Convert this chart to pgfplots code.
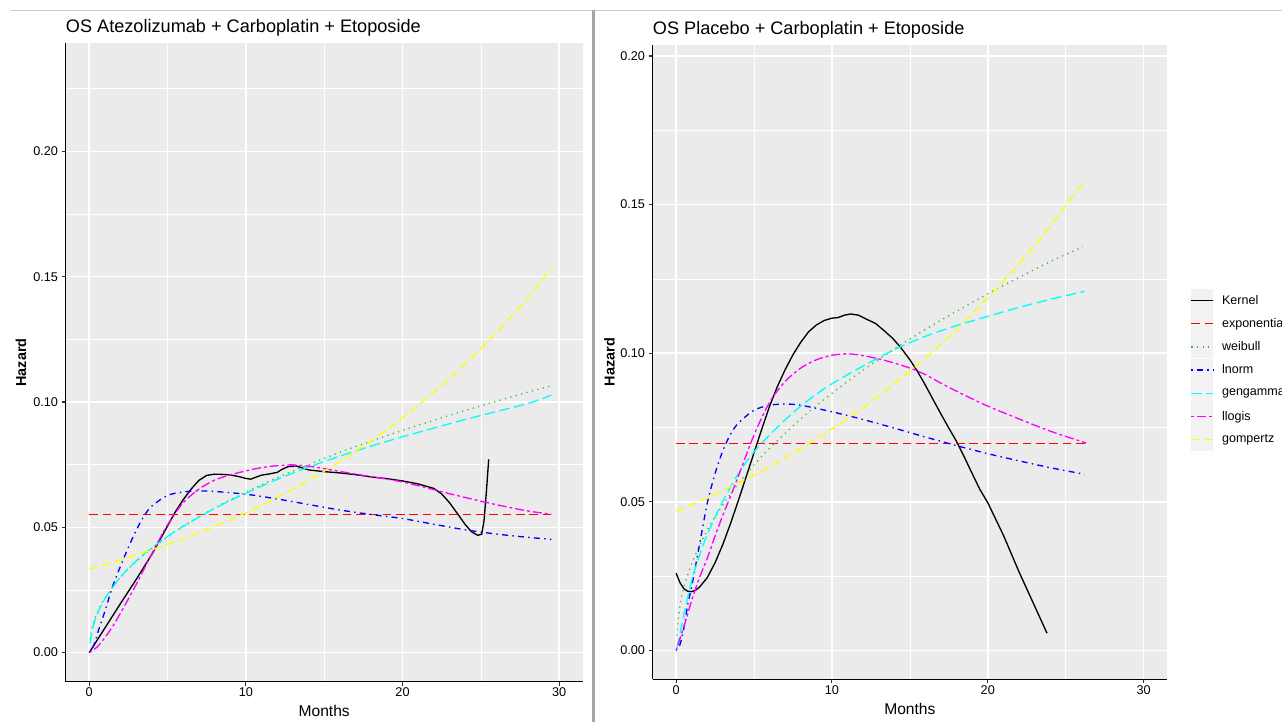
\documentclass[border=0pt]{standalone}
\usepackage{fontspec}
\setmainfont{Liberation Sans}
\usepackage{pgfplots}
\pgfplotsset{compat=1.18}

\definecolor{panelbg}{rgb}{0.922,0.922,0.922}
\definecolor{legkey}{rgb}{0.949,0.949,0.949}
\definecolor{tickcol}{rgb}{0.2,0.2,0.2}
\definecolor{framegray}{rgb}{0.651,0.651,0.651}
\definecolor{framelight}{rgb}{0.784,0.784,0.784}
\definecolor{gridwhite}{rgb}{1,1,1}
\definecolor{axisblack}{rgb}{0,0,0}

% stroke colour written straight into the PDF stream
\makeatletter
\newcommand\hzstroke[1]{\pgfsysprotocol@literal{#1 RG}}
\makeatother

% line styles of the fitted hazards
\tikzset{
  hzKernel/.style={draw, /utils/exec={\hzstroke{0 0 0}}, solid},
  hzExpo/.style={draw, /utils/exec={\hzstroke{1 0 0}}, dash pattern=on 6.5pt off 3.5pt},
  hzWeib/.style={draw, /utils/exec={\hzstroke{0.2 0.75 0.2}}, dash pattern=on 0.9pt off 3.3pt},
  hzLnorm/.style={draw, /utils/exec={\hzstroke{0 0 1}}, dash pattern=on 1.1pt off 3.2pt on 4.5pt off 3.2pt},
  hzGgam/.style={draw, /utils/exec={\hzstroke{0 1 1}}, dash pattern=on 7.8pt off 3.4pt},
  hzLlog/.style={draw, /utils/exec={\hzstroke{1 0 1}}, dash pattern=on 2.2pt off 2.2pt on 6.8pt off 2.2pt},
  hzGomp/.style={draw, /utils/exec={\hzstroke{1 1 0}}, dash pattern=on 6.5pt off 3.5pt},
}

\pgfplotsset{
  every axis title shift=0pt,
  hazardaxis/.style={
    scale only axis,
    anchor=south west,
    xmin=-1.5, xmax=31.5,
    xtick={0,10,20,30},
    minor xtick={5,15,25},
    ytick={0,0.05,0.10,0.15,0.20},
    minor ytick={0.025,0.075,0.125,0.175,0.225},
    grid=both,
    major grid style={draw=gridwhite, line width=1.1pt},
    minor grid style={draw=gridwhite, line width=0.55pt},
    axis background/.style={fill=panelbg},
    axis x line*=bottom, axis y line*=left,
    axis line style={-, draw=axisblack, line width=0.8pt},
    tick pos=left,
    tick align=outside,
    major tick length=3pt,
    minor tick length=0pt,
    major tick style={draw=tickcol, line width=0.8pt},
    tick label style={font=\fontsize{9.5}{11}\selectfont},
    xticklabel style={inner sep=1.6pt},
    yticklabel style={inner sep=2.6pt},
    scaled y ticks=false,
    y tick label style={/pgf/number format/.cd, fixed, fixed zerofill, precision=2, /tikz/.cd},
    /pgf/number format/assume math mode=true,
    xlabel={Months},
    ylabel={Hazard},
    xlabel style={font=\fontsize{11.7}{14}\selectfont, anchor=center, inner sep=0pt},
    ylabel style={font=\bfseries\fontsize{10.8}{13}\selectfont, anchor=center, inner sep=0pt},
    title style={font=\fontsize{13.6}{16}\selectfont, anchor=west, inner sep=0pt},
    every axis plot/.append style={line width=1pt, no markers},
  },
}

\begin{document}
\begin{tikzpicture}
\useasboundingbox[fill=gridwhite] (0pt,0pt) rectangle (961.5pt,541.5pt);

% window frame lines
\draw[draw=framelight, line width=0.8pt] (8.25pt,533.6pt) -- (961.5pt,533.6pt);
\path[fill=framegray] (443.8pt,0pt) rectangle (446.25pt,534pt);

% ---------------- Atezolizumab arm ----------------
\begin{axis}[hazardaxis,
  at={(49.28pt,30.23pt)}, width=387.75pt, height=478.8pt,
  ymin=-0.0116, ymax=0.2431,
  title={OS Atezolizumab + Carboplatin + Etoposide},
  title style={at={(axis description cs:0,1.0235)}},
  xlabel style={at={(axis description cs:0.5,-0.0464)}},
  ylabel style={at={(axis description cs:-0.0865,0.5)}},
]
\addplot[hzKernel] coordinates {(0,0) (1,0.0098) (2,0.0196) (3,0.0292) (4,0.0392) (5,0.0505) (5.5,0.0562) (6,0.0610) (6.5,0.0652) (7,0.0687) (7.5,0.0707) (8,0.0712) (8.5,0.0711) (9,0.0709) (9.5,0.0703) (10,0.0695) (10.3,0.0692) (10.6,0.0699) (11,0.0708) (11.5,0.0713) (12,0.0719) (12.3,0.0731) (12.7,0.0742) (13.2,0.0745) (13.6,0.0737) (14,0.0729) (15,0.0722) (16,0.0717) (17,0.0710) (18,0.0701) (19,0.0694) (20,0.0685) (21,0.0673) (22,0.0655) (22.5,0.0633) (23,0.0598) (23.5,0.0555) (24,0.0511) (24.4,0.0482) (24.8,0.0468) (25.05,0.0472) (25.2,0.0525) (25.35,0.0640) (25.5,0.0771)};
\addplot[hzExpo] coordinates {(0,0.0552) (29.5,0.0552)};
\addplot[hzWeib, smooth] coordinates {(0.05,0.0053) (0.25,0.0113) (0.5,0.0157) (1,0.0217) (2,0.0301) (3,0.0364) (4,0.0416) (5,0.0462) (6,0.0504) (8,0.0577) (10,0.0640) (12,0.0698) (14,0.0750) (16,0.0799) (18,0.0844) (20,0.0887) (22,0.0927) (24,0.0966) (26,0.1003) (28,0.1039) (29.5,0.1065)};
\addplot[hzLnorm, smooth] coordinates {(0,0) (0.3,0.003) (0.6,0.009) (1,0.0165) (1.5,0.0265) (2,0.0345) (2.5,0.042) (3,0.0488) (3.5,0.0545) (4,0.0585) (5,0.0627) (6,0.0641) (7,0.0645) (8,0.0643) (10,0.0632) (12,0.0613) (14,0.0591) (16,0.0569) (18,0.0551) (20,0.0535) (22,0.0512) (24,0.0490) (26,0.0473) (28,0.0460) (29.5,0.0452)};
\addplot[hzGgam, smooth] coordinates {(0.05,0.0038) (0.25,0.0105) (0.5,0.0152) (1,0.0215) (2,0.0302) (3,0.0366) (4,0.0418) (5,0.0463) (6,0.0504) (8,0.0575) (10,0.0636) (12,0.0691) (14,0.0740) (16,0.0784) (18,0.0824) (20,0.0861) (22,0.0896) (24,0.0930) (26,0.0962) (28,0.0994) (29.5,0.1027)};
\addplot[hzLlog, smooth] coordinates {(0,0) (0.5,0.0022) (1,0.006) (1.5,0.0105) (2,0.0158) (3,0.0272) (4,0.0395) (5,0.0510) (6,0.0598) (7,0.0652) (8,0.0688) (9,0.0709) (10,0.0725) (11,0.0738) (12,0.0746) (13,0.0749) (14,0.0744) (15,0.0734) (16,0.0723) (17,0.0712) (18,0.0702) (19,0.0692) (20,0.0681) (21,0.0666) (22,0.0650) (23,0.0634) (24,0.0619) (25,0.0604) (26,0.0590) (27,0.0577) (28,0.0565) (29.5,0.0552)};
\addplot[hzGomp, smooth] coordinates {(0,0.0333) (2,0.0369) (4,0.0410) (6,0.0454) (8,0.0504) (10,0.0558) (12,0.0619) (14,0.0687) (16,0.0762) (18,0.0845) (20,0.0937) (22,0.1039) (24,0.1152) (26,0.1277) (28,0.1416) (29.5,0.1532)};
\end{axis}

% ---------------- Placebo arm ----------------
\begin{axis}[hazardaxis,
  at={(489.53pt,32.03pt)}, width=385.73pt, height=475.73pt,
  ymin=-0.0097, ymax=0.2037,
  title={OS Placebo + Carboplatin + Etoposide},
  title style={at={(axis description cs:0,1.0232)}},
  xlabel style={at={(axis description cs:0.5,-0.0473)}},
  ylabel style={at={(axis description cs:-0.084,0.5)}},
]
\addplot[hzKernel] coordinates {(0,0.026) (0.25,0.0228) (0.5,0.0208) (0.75,0.0199) (1.0,0.0198) (1.25,0.0203) (1.5,0.0213) (2,0.0245) (2.5,0.0295) (3,0.0357) (3.5,0.0428) (4,0.0505) (4.5,0.0585) (5,0.0665) (5.5,0.0745) (6,0.0822) (6.5,0.0888) (7,0.0945) (7.5,0.0995) (8,0.1037) (8.5,0.1072) (9,0.1095) (9.5,0.1110) (10,0.1118) (10.4,0.1120) (10.8,0.1128) (11.2,0.1132) (11.7,0.1128) (12.2,0.1115) (12.8,0.1100) (13.3,0.1078) (13.9,0.1050) (14.4,0.1020) (15.0,0.0978) (15.5,0.0938) (16.0,0.0892) (16.5,0.0843) (17.0,0.0795) (17.5,0.0748) (18.0,0.0703) (18.5,0.0650) (19.0,0.0595) (19.5,0.0541) (20.0,0.0497) (21.0,0.0388) (22.0,0.0265) (23.0,0.0150) (23.8,0.0058)};
\addplot[hzExpo] coordinates {(0,0.0696) (26.3,0.0696)};
\addplot[hzWeib, smooth] coordinates {(0.05,0.005) (0.25,0.0152) (0.5,0.0211) (1,0.0292) (2,0.0405) (3,0.0490) (4,0.0562) (5,0.0624) (6,0.0680) (8,0.0779) (10,0.0865) (12,0.0943) (14,0.1014) (16,0.1080) (18,0.1141) (20,0.1200) (22,0.1255) (24,0.1308) (26.1,0.1358)};
\addplot[hzLnorm, smooth] coordinates {(0,0) (0.25,0.002) (0.5,0.0075) (0.75,0.0155) (1,0.0215) (1.5,0.0355) (2,0.0495) (2.5,0.0595) (3,0.0672) (3.5,0.0728) (4,0.0765) (5,0.0808) (6,0.0825) (7,0.0829) (8,0.0825) (10,0.0803) (12,0.0777) (14,0.0748) (16,0.0718) (18,0.0689) (20,0.0662) (22,0.0638) (24,0.0615) (26.2,0.0593)};
\addplot[hzGgam, smooth] coordinates {(0.05,0.001) (0.25,0.0055) (0.5,0.012) (1,0.0235) (1.5,0.032) (2,0.039) (3,0.0502) (4,0.0595) (5,0.0668) (6,0.0725) (7,0.0776) (8,0.0822) (9,0.0862) (10,0.0897) (12,0.0957) (14,0.1012) (16,0.1057) (18,0.1093) (20,0.1124) (22,0.1154) (24,0.1181) (26.2,0.1208)};
\addplot[hzLlog, smooth] coordinates {(0,0) (0.5,0.008) (1,0.0168) (1.5,0.0245) (2,0.031) (2.5,0.0385) (3,0.0455) (3.5,0.052) (4,0.0587) (5,0.0725) (6,0.0835) (7,0.0905) (8,0.095) (9,0.0978) (10,0.0993) (11,0.0998) (12,0.0992) (13,0.0981) (14,0.0967) (15,0.095) (16,0.0928) (17,0.0899) (18,0.0872) (20,0.0822) (22,0.0779) (24,0.0738) (26.3,0.0698)};
\addplot[hzGomp, smooth] coordinates {(0,0.0468) (2,0.0514) (4,0.0564) (6,0.0618) (8,0.0679) (10,0.0745) (12,0.0817) (14,0.0897) (16,0.0984) (18,0.1080) (20,0.1185) (22,0.1301) (24,0.1427) (26.2,0.1581)};
\end{axis}

% ---------------- shared legend ----------------
\begin{axis}[
  scale only axis, anchor=south west,
  at={(489.53pt,32.03pt)}, width=385.73pt, height=475.73pt,
  xmin=0, xmax=1, ymin=0, ymax=1,
  hide axis,
  legend style={at={(axis description cs:1.0461,0.6153)}, anchor=north west,
    draw=none, fill=none, inner sep=0pt, outer sep=0pt,
    row sep=0.2pt, column sep=6pt,
    font=\fontsize{9.4}{11}\selectfont,
    nodes={inner sep=0pt, anchor=west}},
  legend cell align=left,
  legend image code/.code={
    \path[draw=none, fill=legkey] (0pt,-8.6pt) rectangle (16.5pt,8.6pt);
    \draw[line width=1pt, #1] (0pt,0pt) -- (16.5pt,0pt);
  },
]
\addlegendimage{hzKernel}
\addlegendentry{Kernel}
\addlegendimage{hzExpo}
\addlegendentry{exponential}
\addlegendimage{hzWeib}
\addlegendentry{weibull}
\addlegendimage{hzLnorm}
\addlegendentry{lnorm}
\addlegendimage{hzGgam}
\addlegendentry{gengamma}
\addlegendimage{hzLlog}
\addlegendentry{llogis}
\addlegendimage{hzGomp}
\addlegendentry{gompertz}
\end{axis}
\end{tikzpicture}
\end{document}
